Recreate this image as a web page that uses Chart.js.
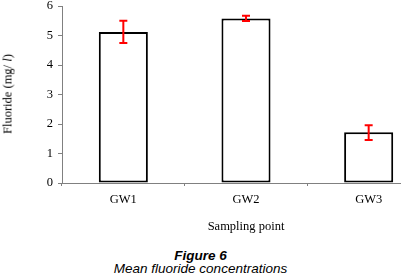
<!DOCTYPE html>
<html>
<head>
<meta charset="utf-8">
<script src="https://cdn.jsdelivr.net/npm/chart.js@4"></script>
<style>
  html, body { margin:0; padding:0; background:#fff; width:401px; height:278px; overflow:hidden; position:relative; }
  #wrap { position:absolute; left:0; top:0; width:430px; height:234px; }
  #ytitle { position:absolute; left:8px; top:94px; transform:translate(-50%,-50%) rotate(-90deg); font:12.5px "Liberation Serif", serif; color:#000; white-space:nowrap; }
  .cap { position:absolute; left:0; width:401px; text-align:center; font-family:"Liberation Sans", Arial, sans-serif; font-style:italic; color:#000; white-space:nowrap; line-height:16px; }
  #fig { top:248px; font-size:13.5px; font-weight:bold; }
  #desc { top:261px; font-size:13.5px; }
</style>
</head>
<body>
<div id="wrap"><canvas id="c"></canvas></div>
<div id="ytitle">Fluoride (mg/ <i>l</i>)</div>
<div id="fig" class="cap">Figure 6</div>
<div id="desc" class="cap">Mean fluoride concentrations</div>
<script>
const categories = ["GW1", "GW2", "GW3"];
const meanValues = [5.12, 5.58, 1.72];
const errLow = [4.75, 5.49, 1.46];
const errHigh = [5.50, 5.67, 1.96];
const yTicks = [0, 1, 2, 3, 4, 5, 6];

const errorBars = {
  id: 'errorBars',
  afterDatasetsDraw(chart) {
    const ctx = chart.ctx, x = chart.scales.x, y = chart.scales.y;
    ctx.save();
    ctx.strokeStyle = '#ff0000';
    ctx.lineWidth = 2;
    categories.forEach((c, i) => {
      const px = x.getPixelForValue(i);
      const yl = y.getPixelForValue(errLow[i]);
      const yh = y.getPixelForValue(errHigh[i]);
      ctx.beginPath();
      ctx.moveTo(px, yl); ctx.lineTo(px, yh);
      ctx.moveTo(px - 4, yl); ctx.lineTo(px + 4, yl);
      ctx.moveTo(px - 4, yh); ctx.lineTo(px + 4, yh);
      ctx.stroke();
    });
    ctx.restore();
  }
};

new Chart(document.getElementById('c'), {
  type: 'bar',
  data: {
    labels: categories,
    datasets: [{
      data: meanValues,
      backgroundColor: '#ffffff',
      borderColor: '#000000',
      borderWidth: 2,
      borderSkipped: false,
      categoryPercentage: 1,
      barPercentage: 0.4
    }]
  },
  options: {
    responsive: true,
    maintainAspectRatio: false,
    animation: false,
    layout: { padding: { top: 6, right: 0, left: 0, bottom: 0 } },
    plugins: { legend: { display: false }, tooltip: { enabled: false } },
    scales: {
      x: {
        offset: true,
        grid: { offset: true, drawOnChartArea: false, drawTicks: true, tickLength: 3, color: '#808080' },
        border: { color: '#808080', width: 1 },
        ticks: { color: '#000', font: { family: 'Liberation Serif', size: 12.5 }, padding: 6 },
        title: { display: true, text: 'Sampling point', color: '#000', font: { family: 'Liberation Serif', size: 12.5 }, padding: { top: 8, bottom: 0 } },
        afterFit(s) { s.height = 51; s.paddingLeft = 0; s.paddingRight = 0; }
      },
      y: {
        min: 0, max: 6,
        afterBuildTicks(s) { s.ticks = yTicks.map(v => ({ value: v })); },
        grid: { drawOnChartArea: false, drawTicks: true, tickLength: 4, color: '#808080' },
        border: { color: '#808080', width: 1 },
        ticks: { color: '#000', font: { family: 'Liberation Serif', size: 12.5 }, padding: 5 },
        afterFit(s) { s.width = 62; s.paddingTop = 0; s.paddingBottom = 0; }
      }
    }
  },
  plugins: [errorBars]
});
</script>
</body>
</html>
